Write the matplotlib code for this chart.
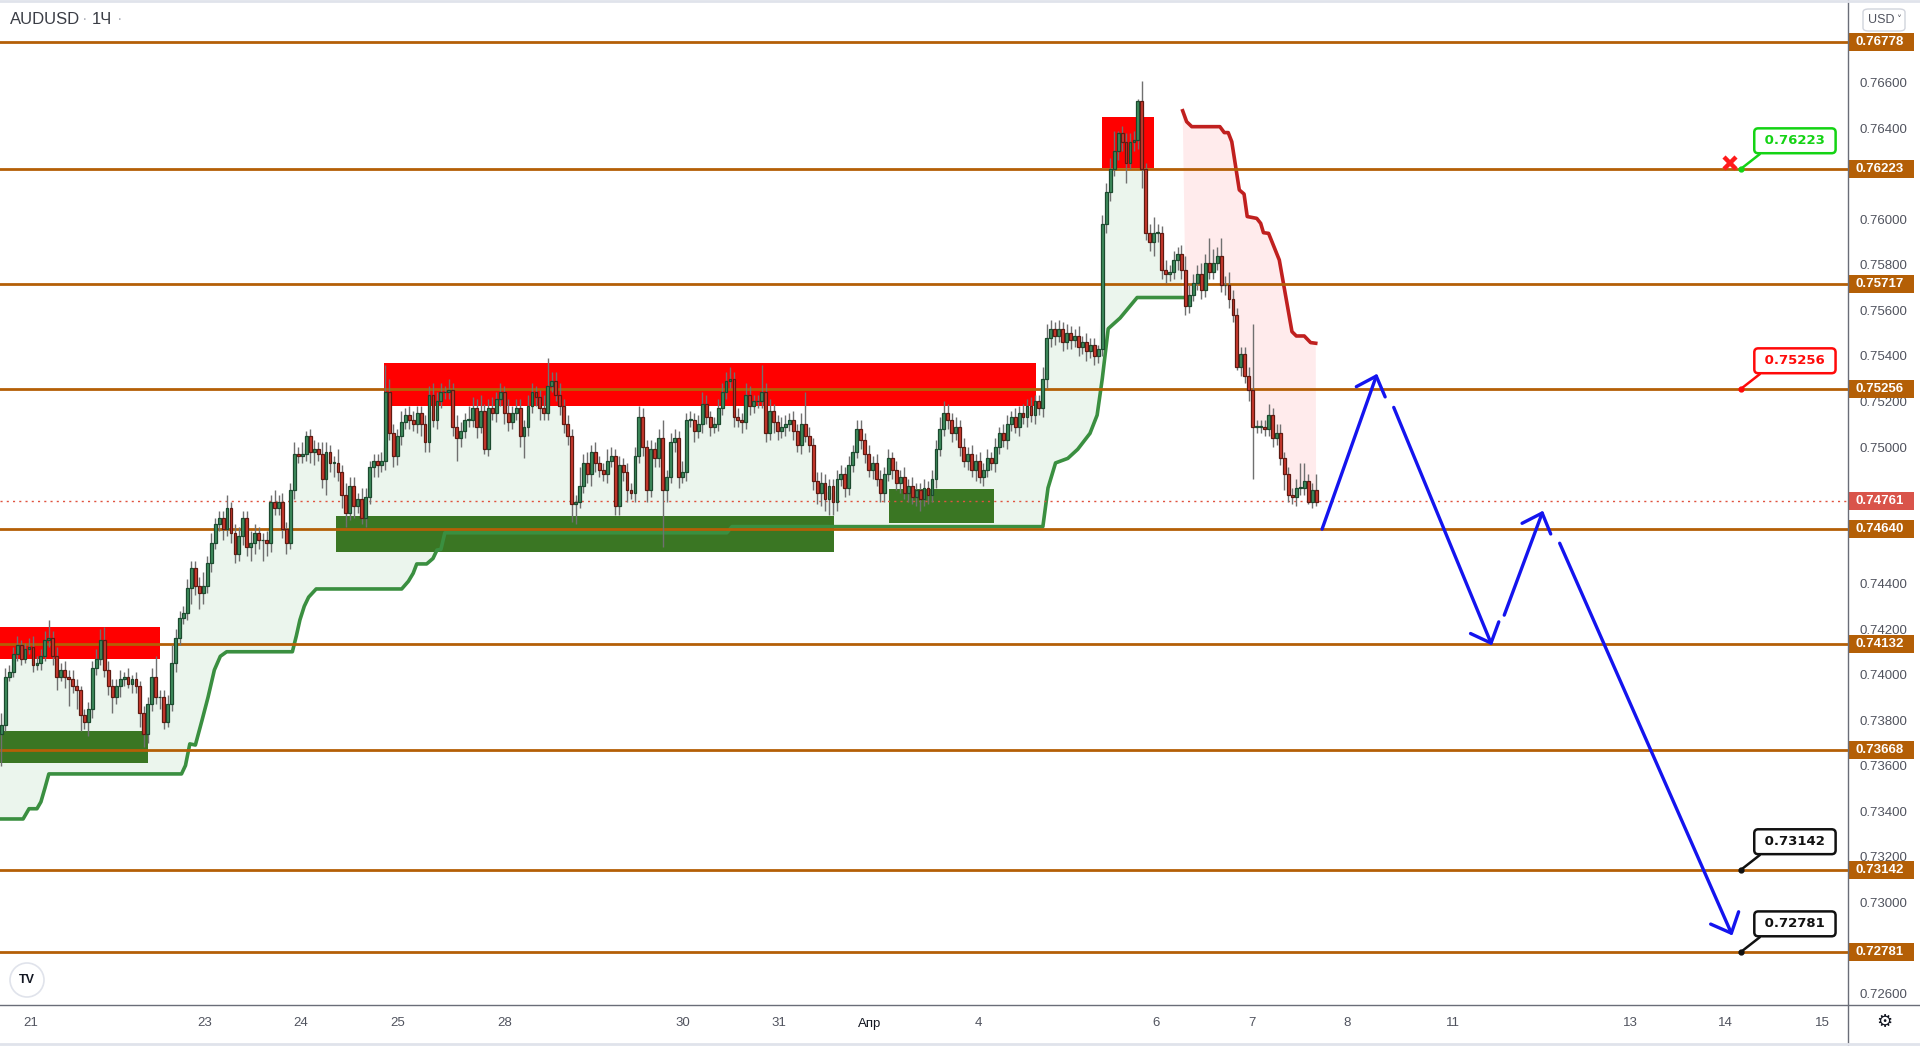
import matplotlib
matplotlib.use("Agg")
import matplotlib.pyplot as plt
import matplotlib.transforms as mtransforms
from matplotlib.patches import Rectangle, FancyBboxPatch, Ellipse
from matplotlib.lines import Line2D
import numpy as np

plt.rcParams['font.family'] = ['Liberation Sans', 'DejaVu Sans']

W, H = 1920, 1046

# ---- hourly AUDUSD candles, prices in pips (x 0.0001) ----
open_first = 7374
closes = [
    7378, 7399, 7401, 7409, 7413, 7407, 7411, 7412, 7404, 7405,
    7408, 7415, 7416, 7408, 7399, 7402, 7399, 7398, 7395, 7393,
    7382, 7379, 7385, 7403, 7407, 7415, 7402, 7395, 7390, 7395,
    7398, 7399, 7396, 7398, 7395, 7383, 7374, 7387, 7399, 7390,
    7390, 7379, 7387, 7405, 7416, 7425, 7427, 7438, 7447, 7439,
    7436, 7439, 7449, 7458, 7466, 7469, 7464, 7473, 7462, 7453,
    7461, 7469, 7456, 7458, 7462, 7459, 7459, 7458, 7476, 7473,
    7476, 7464, 7458, 7481, 7497, 7496, 7497, 7505, 7498, 7499,
    7497, 7486, 7498, 7493, 7493, 7489, 7479, 7471, 7483, 7474,
    7477, 7469, 7478, 7491, 7494, 7492, 7494, 7524, 7506, 7496,
    7505, 7511, 7514, 7512, 7510, 7515, 7510, 7502, 7523, 7512,
    7520, 7524, 7524, 7525, 7509, 7504, 7507, 7512, 7512, 7517,
    7509, 7516, 7499, 7517, 7515, 7521, 7524, 7515, 7511, 7515,
    7517, 7505, 7509, 7518, 7524, 7522, 7517, 7515, 7527, 7529,
    7523, 7518, 7510, 7505, 7475, 7476, 7483, 7493, 7488, 7498,
    7493, 7490, 7488, 7494, 7496, 7474, 7492, 7489, 7481, 7480,
    7496, 7513, 7500, 7481, 7499, 7495, 7504, 7481, 7487, 7502,
    7504, 7487, 7489, 7512, 7512, 7507, 7510, 7519, 7513, 7509,
    7510, 7517, 7524, 7529, 7530, 7513, 7512, 7511, 7523, 7518,
    7520, 7520, 7524, 7506, 7516, 7511, 7507, 7509, 7510, 7512,
    7507, 7501, 7510, 7505, 7501, 7485, 7480, 7484, 7477, 7483,
    7476, 7486, 7488, 7482, 7492, 7498, 7508, 7503, 7497, 7490,
    7493, 7486, 7480, 7488, 7495, 7490, 7484, 7487, 7480, 7483,
    7478, 7481, 7477, 7482, 7479, 7486, 7499, 7508, 7515, 7512,
    7506, 7509, 7500, 7494, 7497, 7490, 7494, 7487, 7490, 7495,
    7493, 7500, 7506, 7503, 7510, 7513, 7509, 7515, 7513, 7518,
    7514, 7520, 7517, 7530, 7548, 7552, 7549, 7552, 7546, 7550,
    7547, 7549, 7544, 7546, 7542, 7545, 7540, 7543, 7598, 7612,
    7622, 7630, 7638, 7634, 7625, 7634, 7635, 7652, 7622, 7594,
    7590, 7594, 7594, 7578, 7576, 7577, 7582, 7585, 7578, 7562,
    7567, 7572, 7576, 7569, 7581, 7577, 7581, 7584, 7571, 7571,
    7565, 7558, 7535, 7541, 7531, 7525, 7509, 7509, 7509, 7508,
    7514, 7504, 7506, 7495, 7488, 7479, 7478, 7482, 7482, 7485,
    7476, 7481, 7476,
]
wick_up = [
    5, 4, 3, 3, 4, 2, 3, 4, 5, 3, 3, 4, 8, 3, 4, 3, 4, 3, 4, 3,
    2, 3, 3, 3, 4, 5, 6, 4, 3, 3, 4, 2, 4, 2, 3, 2, 3, 3, 4, 9,
    3, 3, 4, 8, 4, 3, 3, 4, 3, 3, 4, 6, 3, 4, 3, 3, 3, 6, 3, 4,
    4, 3, 3, 5, 4, 3, 3, 4, 3, 5, 3, 4, 3, 3, 5, 3, 5, 2, 3, 4,
    3, 5, 4, 3, 3, 6, 3, 5, 4, 4, 3, 5, 4, 3, 3, 3, 4, 12, 6, 4,
    3, 5, 3, 4, 4, 3, 3, 4, 4, 5, 4, 4, 3, 5, 3, 5, 4, 3, 6, 5,
    4, 7, 3, 4, 5, 3, 4, 3, 6, 3, 4, 4, 3, 5, 4, 3, 3, 6, 12, 4,
    4, 5, 3, 4, 3, 3, 8, 4, 5, 3, 4, 3, 3, 5, 4, 3, 4, 3, 4, 3,
    4, 5, 4, 3, 4, 3, 4, 8, 3, 4, 4, 3, 5, 3, 4, 3, 4, 5, 4, 3,
    3, 4, 4, 4, 5, 3, 4, 3, 5, 4, 3, 3, 12, 4, 5, 3, 3, 4, 4, 3,
    4, 3, 5, 14, 4, 3, 4, 5, 4, 3, 3, 4, 4, 3, 4, 3, 4, 4, 3, 4,
    3, 4, 4, 3, 4, 3, 4, 3, 4, 3, 4, 3, 3, 4, 3, 4, 4, 5, 5, 4,
    3, 4, 3, 4, 3, 4, 3, 4, 3, 4, 3, 4, 3, 4, 4, 3, 4, 3, 4, 3,
    4, 3, 3, 5, 6, 4, 3, 4, 3, 4, 3, 3, 4, 3, 4, 3, 3, 2, 4, 4,
    5, 9, 1, 3, 4, 4, 4, 1, 9, 3, 4, 7, 4, 3, 4, 3, 4, 3, 4, 6,
    4, 4, 4, 5, 4, 11, 6, 4, 8, 4, 6, 4, 3, 3, 3, 4, 29, 3, 3, 3,
    5, 3, 4, 4, 3, 3, 3, 4, 11, 8, 3, 3, 7,
]
wick_down = [
    14, 3, 2, 2, 3, 3, 2, 2, 3, 2, 3, 2, 3, 4, 6, 2, 5, 12, 3, 8,
    7, 3, 6, 4, 3, 3, 3, 4, 7, 3, 5, 3, 2, 4, 3, 6, 6, 4, 3, 3,
    5, 3, 2, 3, 4, 3, 3, 3, 7, 4, 7, 5, 3, 4, 3, 3, 5, 3, 4, 4,
    3, 4, 4, 6, 5, 4, 9, 6, 4, 3, 3, 4, 5, 3, 4, 3, 3, 3, 5, 6,
    3, 4, 7, 4, 6, 4, 6, 6, 3, 5, 3, 3, 4, 3, 4, 5, 3, 4, 3, 5,
    4, 4, 3, 4, 3, 4, 5, 4, 4, 3, 4, 3, 3, 3, 4, 10, 4, 3, 3, 3,
    5, 3, 2, 3, 3, 4, 3, 5, 4, 3, 3, 5, 10, 4, 3, 4, 5, 3, 3, 3,
    3, 4, 4, 4, 8, 9, 3, 3, 4, 5, 4, 3, 3, 4, 3, 4, 4, 4, 5, 3,
    4, 3, 4, 5, 3, 4, 4, 25, 5, 3, 4, 5, 3, 4, 3, 5, 3, 4, 3, 4,
    3, 3, 3, 3, 3, 4, 3, 5, 3, 4, 3, 3, 3, 4, 3, 5, 4, 3, 4, 3,
    4, 3, 4, 3, 3, 4, 5, 6, 5, 7, 6, 4, 3, 4, 3, 3, 3, 4, 4, 3,
    4, 3, 4, 4, 3, 4, 3, 4, 3, 4, 3, 4, 5, 3, 4, 3, 4, 3, 3, 4,
    4, 3, 4, 3, 4, 3, 5, 3, 4, 3, 3, 4, 3, 3, 4, 3, 3, 4, 3, 4,
    3, 4, 3, 4, 4, 4, 4, 3, 4, 3, 4, 3, 4, 3, 4, 3, 4, 3, 3, 4,
    4, 3, 4, 4, 9, 3, 4, 4, 8, 3, 4, 6, 4, 4, 4, 3, 3, 4, 4, 4,
    3, 3, 3, 4, 3, 3, 3, 3, 3, 4, 4, 3, 1, 4, 3, 5, 23, 3, 3, 3,
    3, 4, 3, 3, 7, 3, 3, 4, 3, 3, 1, 3, 2,
]

# ---- supertrend-like trailing lines (bar index, pips) ----
trail_up_bars = [-1, 5.5, 7, 9, 10, 11, 12, 45.5, 46.5, 47.6, 49, 50.7, 52.2, 53.8, 55.3,
                 56.9, 73.5, 74.5, 75.4, 76.5, 77.6, 79.5, 101.1, 102.8, 104.0, 104.9,
                 107.4, 109.0, 110.0, 111.0, 112.0, 183.2, 184.5, 263.0, 264.3, 266.2,
                 269.3, 271.8, 274.9, 276.7, 278.0, 279.5, 282.5, 286.8, 298.2]
trail_up_vals = [7336.5, 7336.5, 7341, 7341, 7344, 7350, 7356.3, 7356.3, 7360, 7369.5, 7369,
                 7380, 7390, 7402, 7408, 7410, 7410, 7417, 7424, 7430, 7434, 7437.6, 7437.6,
                 7441, 7444.5, 7448.6, 7448.6, 7451, 7454.7, 7455, 7462.3, 7462.3, 7465, 7465,
                 7482, 7493, 7495, 7499, 7506, 7514, 7530, 7552, 7556.7, 7565.7, 7565.7]
trail_dn_bars = [298.3, 299.3, 300.6, 307.7, 308.8, 309.8, 310.7, 312.6, 313.8, 314.6, 317.0,
                 318.0, 318.7, 320.0, 322.7, 325.9, 327.0, 329.0, 330.6, 331.9]
trail_dn_vals = [7647.8, 7643, 7640.8, 7640.8, 7638.2, 7638.2, 7634.2, 7613, 7611.2, 7601.3,
                 7600.5, 7598.3, 7594.2, 7593.9, 7582.2, 7550.7, 7548.8, 7548.8, 7545.9, 7545.6]

# ---- zones ----
supply_start = [-1, 96.6, 277.9]
supply_end = [40.1, 261.3, 291.1]
supply_low = [0.74068, 0.75182, 0.76228]
supply_high = [0.74210, 0.75371, 0.76452]
demand_start = [-1, 84.5, 224.2]
demand_end = [37.0, 210.3, 250.7]
demand_low = [0.73613, 0.74540, 0.74666]
demand_high = [0.73752, 0.74697, 0.74817]

levels = [0.76778, 0.76223, 0.75717, 0.75256, 0.74640, 0.74132, 0.73668, 0.73142, 0.72781]
last_price = 0.74761

# ---- projected path ----
proj_from_bar = [333.5, 351.6, 379.5, 393.5]
proj_from_price = [0.74639, 0.75174, 0.74261, 0.74577]
proj_to_bar = [347.4, 376.4, 389.3, 437.1]
proj_to_price = [0.75322, 0.74128, 0.74720, 0.72853]

callout_values = [0.76223, 0.75256, 0.73142, 0.72781]
callout_bar = 439.3
stop_bar, stop_price = 436.5, 0.7625

day_ticks = [7.4, 51.4, 75.7, 100.2, 127.2, 172.1, 196.4, 219.2, 246.7, 291.6, 315.8,
             339.8, 366.6, 411.4, 435.4, 459.9]
day_labels = ['21', '23', '24', '25', '28', '30', '31', 'Апр', '4', '6', '7', '8',
              '11', '13', '14', '15']
# scale labels that stay visible next to the level tags
price_ticks = [0.726, 0.730, 0.732, 0.734, 0.736, 0.738, 0.740, 0.742, 0.744,
               0.750, 0.752, 0.754, 0.756, 0.758, 0.760, 0.764, 0.766]

LEVEL = '#b45f06'
GREEN_BODY, GREEN_EDGE = '#3f8d5d', '#1c4a2f'
RED_BODY, RED_EDGE = '#cc3a2e', '#5e1a12'
AXIS = '#50535e'

fig = plt.figure(figsize=(W / 100, H / 100), dpi=100)
ax = fig.add_axes([0, (H - 1005) / H, 1848 / W, 1005 / H])
ax.set_xlim(-0.33, 466.3)
ax.set_ylim(0.725473, 0.769648)
px_per_price = 1005 / (0.769648 - 0.725473)

x = np.arange(len(closes))
c = np.array(closes) / 10000
o = np.concatenate([[open_first / 10000], c[:-1]])
hi = np.maximum(o, c) + np.array(wick_up) / 10000
lo = np.minimum(o, c) - np.array(wick_down) / 10000
mid = (o + c) / 2

# trailing fills
tub = np.array(trail_up_bars)
tuv = np.array(trail_up_vals) / 10000
sel = x <= 298
ax.fill(np.concatenate([x[sel], tub[::-1]]), np.concatenate([mid[sel], tuv[::-1]]),
        color='#ebf5ed', lw=0, zorder=1)
tdb = np.array(trail_dn_bars)
tdv = np.array(trail_dn_vals) / 10000
sel2 = x >= 299
ax.fill(np.concatenate([tdb, x[sel2][::-1]]), np.concatenate([tdv, mid[sel2][::-1]]),
        color='#ffebec', lw=0, zorder=1)

# zones
for s, e, l, h in zip(supply_start, supply_end, supply_low, supply_high):
    ax.add_patch(Rectangle((s, l), e - s, h - l, color='#ff0000', lw=0, zorder=2))
for s, e, l, h in zip(demand_start, demand_end, demand_low, demand_high):
    ax.add_patch(Rectangle((s, l), e - s, h - l, color='#3a7623', lw=0, zorder=2))

ax.plot(tub, tuv, color='#3a8f40', lw=2.6, solid_joinstyle='round', zorder=3)
ax.plot(tdb, tdv, color='#c0201f', lw=2.6, solid_joinstyle='round', zorder=3)

# levels and their price tags
blend = mtransforms.blended_transform_factory(fig.transFigure, ax.transData)
tag_h = 18 / px_per_price
for p in levels:
    ax.axhline(p, color=LEVEL, lw=2, zorder=3.5)
    ax.add_patch(Rectangle((1848 / W, p - tag_h / 2), 66 / W, tag_h, transform=blend,
                           color=LEVEL, lw=0, clip_on=False, zorder=10))
    ax.text(1880 / W, p, f'{p:.5f}', transform=blend, ha='center', va='center',
            color='white', fontweight='bold', fontsize=9.5, clip_on=False, zorder=11)

ax.axhline(last_price, color='#e0533f', lw=1, ls=(0, (1.5, 3)), zorder=3.6)
ax.add_patch(Rectangle((1848 / W, last_price - tag_h / 2), 66 / W, tag_h, transform=blend,
                       color='#d9544a', lw=0, clip_on=False, zorder=10))
ax.text(1880 / W, last_price, f'{last_price:.5f}', transform=blend, ha='center', va='center',
        color='white', fontweight='bold', fontsize=9.5, clip_on=False, zorder=11)

# candles
up = c >= o
ax.vlines(x, lo, hi, color='#707070', lw=1, zorder=4)
body_h = np.maximum(np.abs(c - o), 0.00003)
ax.bar(x[up], body_h[up], bottom=np.minimum(o, c)[up], width=0.72,
       color=GREEN_BODY, edgecolor=GREEN_EDGE, linewidth=0.9, zorder=5)
ax.bar(x[~up], body_h[~up], bottom=np.minimum(o, c)[~up], width=0.72,
       color=RED_BODY, edgecolor=RED_EDGE, linewidth=0.9, zorder=5)

# projection arrows
for xb, yb, xe, ye in zip(proj_from_bar, proj_from_price, proj_to_bar, proj_to_price):
    ax.annotate('', xy=(xe, ye), xytext=(xb, yb), zorder=6,
                arrowprops=dict(arrowstyle='->,head_length=0.6,head_width=0.55',
                                color='#1414ee', lw=2.4, mutation_scale=20,
                                shrinkA=0, shrinkB=0))

# callouts
callout_colors = ['#14d314', '#ff0a0a', '#111111', '#111111']
for v, col in zip(callout_values, callout_colors):
    ax.annotate(f' {v:.5f} ', xy=(callout_bar, v), xytext=(callout_bar + 13.6, v + 0.00123),
                ha='center', va='center', fontsize=9.5, fontweight='bold',
                family='DejaVu Sans', color=col, zorder=7,
                bbox=dict(boxstyle='round,pad=0.45,rounding_size=0.3', fc='white',
                          ec=col, lw=1.8),
                arrowprops=dict(arrowstyle='-', color=col, lw=1.8, shrinkA=0, shrinkB=0,
                                relpos=(0.12, 0.0)))
    ax.plot(callout_bar, v, 'o', ms=3.5, color=col, zorder=7)
ax.plot(stop_bar, stop_price, marker='x', ms=9, mew=3.2, color='#ff1a1a', zorder=7)

# axes styling
for sp in ax.spines.values():
    sp.set_visible(False)
ax.yaxis.tick_right()
ax.set_yticks(price_ticks)
ax.set_yticklabels([f'{t:.5f}' for t in price_ticks])
ax.tick_params(axis='y', length=0, pad=8, labelsize=9.5, labelcolor=AXIS)
ax.set_xticks(day_ticks)
ax.set_xticklabels(day_labels)
ax.tick_params(axis='x', length=0, pad=9, labelsize=9.5, labelcolor=AXIS)
for lab in ax.get_xticklabels():
    if lab.get_text() == 'Апр':
        lab.set_color('#131722')


def fx(px):
    return px / W


def fy(py):
    return 1 - py / H


fig.add_artist(Line2D([0, 1], [fy(1005), fy(1005)], color='#6a6d78', lw=1))
fig.add_artist(Line2D([fx(1848), fx(1848)], [0, 1], color='#6a6d78', lw=1))
fig.add_artist(Line2D([0, 1], [fy(1), fy(1)], color='#e0e3eb', lw=2))
fig.add_artist(Line2D([0, 1], [fy(1044), fy(1044)], color='#e0e3eb', lw=2))

# header
fig.text(fx(10), fy(19), 'AUDUSD', fontsize=12, color='#3a3d45', va='center')
fig.text(fx(82), fy(19), '·', fontsize=12, color='#b2b5be', va='center')
fig.text(fx(92), fy(19), '1Ч', fontsize=12, color='#3a3d45', va='center')
fig.text(fx(117), fy(19), '·', fontsize=12, color='#b2b5be', va='center')

# USD button
fig.add_artist(FancyBboxPatch((fx(1863), fy(31)), 42 / W, 22 / H,
                              boxstyle='round,pad=0,rounding_size=0.003',
                              fc='white', ec='#d1d4dc', lw=1, transform=fig.transFigure))
fig.text(fx(1881), fy(20), 'USD', fontsize=9, color=AXIS, ha='center', va='center')
fig.text(fx(1899), fy(20), '˅', fontsize=7, color=AXIS, ha='center', va='center',
         family='DejaVu Sans')

# gear and logo
fig.text(fx(1884), fy(1022), '⚙', fontsize=13, color='#131722', ha='center', va='center',
         family='DejaVu Sans')
fig.add_artist(Ellipse((fx(27), fy(980)), 34 / W, 34 / H, fc='white', ec='#e0e3eb', lw=1.2,
                       transform=fig.transFigure))
fig.text(fx(27), fy(980), 'TV', fontsize=9, fontweight='bold', color='#131722',
         ha='center', va='center')

fig.savefig('out.png', dpi=100, facecolor='white')
